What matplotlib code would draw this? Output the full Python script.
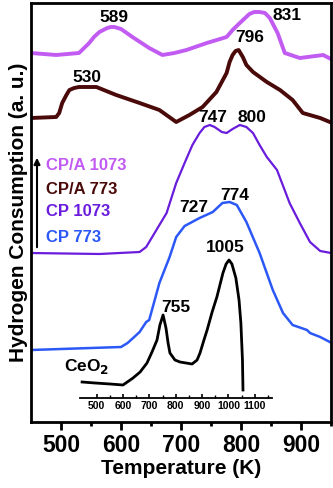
import matplotlib
matplotlib.use("Agg")
import matplotlib.pyplot as plt

plt.rcParams['font.family'] = ['Liberation Sans', 'DejaVu Sans']
plt.rcParams['font.weight'] = 'bold'

# ---- data (temperature in K, hydrogen consumption in a.u., offset stacked) ----
pink_T = [450, 492, 530, 547, 555, 564, 577, 583, 589, 600, 619, 647, 669, 689, 709, 743, 776, 786,
          798, 814, 822, 831, 840, 848, 861, 873, 898, 937, 950]
pink_v = [369, 367, 369, 379, 385, 390, 394, 395, 395, 393, 385, 374, 367, 369, 372, 379, 385, 392,
          399, 408, 410, 410, 409, 404, 389, 369, 364, 367, 363]

brown_T = [450, 492, 497, 502, 509, 514, 522, 530, 559, 592, 631, 664, 692, 714, 736, 759, 776,
           781, 786, 791, 796, 803, 809, 820, 843, 865, 886, 903, 932, 948]
brown_v = [304, 305, 309, 319, 327, 332, 334, 335, 335, 327, 319, 312, 300, 307, 315, 330, 349,
           360, 367, 371, 372, 365, 357, 350, 340, 332, 322, 309, 304, 300]

purple_T = [450, 564, 631, 642, 652, 664, 676, 692, 706, 719, 731, 739, 748, 756, 768, 776,
            786, 798, 809, 820, 831, 843, 860, 881, 898, 915, 932, 950]
purple_v = [169, 168, 170, 175, 185, 197, 209, 239, 259, 277, 289, 295, 297, 295, 290, 289,
            293, 297, 295, 289, 277, 265, 252, 219, 199, 180, 171, 169]

blue_T = [450, 500, 550, 600, 611, 622, 631, 642, 647, 664, 681, 692, 706, 731, 753, 769,
          781, 793, 809, 831, 853, 870, 886, 910, 915, 932, 948]
blue_v = [72, 73, 74, 75, 79, 85, 90, 100, 102, 139, 165, 185, 196, 204, 210, 219,
          220, 217, 200, 169, 132, 109, 97, 92, 89, 85, 80]

ceo2_T = [445, 494, 551, 600, 638, 665, 691, 710, 729, 740, 752, 763, 771, 778, 797, 816,
          839, 862, 881, 892, 907, 919, 938, 956, 979, 991, 1002, 1013, 1028, 1040, 1047,
          1053, 1055]
ceo2_v = [16, 15, 14, 13, 20, 26, 35, 46, 58, 73, 83, 70, 55, 45, 38, 36,
          35, 34, 38, 45, 58, 68, 86, 101, 125, 134, 138, 134, 120, 98, 75,
          38, 8]

main_ticks = [500, 600, 700, 800, 900]
inset_ticks = [500, 600, 700, 800, 900, 1000, 1100]

legend_labels = ["CP/A 1073", "CP/A 773", "CP 1073", "CP 773"]
c_pink, c_brown, c_purple, c_blue = "#C25BF2", "#4A0A0A", "#6A1CDC", "#2B58F6"
legend_colors = [c_pink, c_brown, c_purple, c_blue]

fig = plt.figure(figsize=(3.33, 4.88), dpi=100)
W, H = 333, 488
ax = fig.add_axes([31 / W, (H - 422) / H, 300 / W, 419 / H])

ax.plot(pink_T, pink_v, color=c_pink, lw=2.8, solid_joinstyle='round')
ax.plot(brown_T, brown_v, color=c_brown, lw=2.8, solid_joinstyle='round')
ax.plot(purple_T, purple_v, color=c_purple, lw=1.6, solid_joinstyle='round')
ax.plot(blue_T, blue_v, color=c_blue, lw=1.8, solid_joinstyle='round')

ax.set_xlim(450, 950)
ax.set_ylim(0, 419)
ax.set_yticks([])
ax.set_xticks(main_ticks)
ax.set_xticks([550, 650, 750, 850, 950], minor=True)
ax.tick_params(axis='x', which='major', direction='out', length=6, width=2,
               labelsize=16.5, pad=3)
ax.tick_params(axis='x', which='minor', direction='out', length=3, width=2)
for lab in ax.get_xticklabels():
    lab.set_fontweight('bold')
for s in ax.spines.values():
    s.set_linewidth(2)
ax.set_xlabel("Temperature (K)", fontsize=15, fontweight='bold', labelpad=1)
ax.set_ylabel("Hydrogen Consumption (a. u.)", fontsize=15, fontweight='bold', labelpad=2)

# peak annotations
ann = [("589", 589, 405), ("831", 877, 407), ("796", 814, 384), ("530", 544, 345),
       ("747", 753, 305), ("800", 818, 305), ("727", 722, 214), ("774", 789, 227),
       ("1005", 774, 174), ("755", 692, 114)]
for t, x, y in ann:
    ax.text(x, y, t, ha='center', va='center', fontsize=12.5, fontweight='bold', color='black')
ax.text(542, 55, "CeO$_\\mathbf{2}$", ha='center', va='center', fontsize=12.5,
        fontweight='bold', color='black')

# legend with arrow
ax.annotate("", xy=(460, 267), xytext=(460, 172),
            arrowprops=dict(arrowstyle='-|>', color='black', lw=1.5, mutation_scale=9))
for lab, col, y in zip(legend_labels, legend_colors, [257, 232, 210, 185]):
    ax.text(475, y, lab, ha='left', va='center', fontsize=12, fontweight='bold', color=col)

# inset (CeO2)
axi = fig.add_axes([80 / W, (H - 398) / H, 192 / W, 148 / H])
axi.patch.set_alpha(0)
axi.plot(ceo2_T, ceo2_v, color='black', lw=2.0, solid_joinstyle='round')
axi.set_xlim(437, 1165)
axi.set_ylim(0, 148)
axi.set_yticks([])
for k in ['top', 'right', 'left']:
    axi.spines[k].set_visible(False)
axi.spines['bottom'].set_linewidth(1.3)
axi.set_xticks(inset_ticks)
axi.set_xticks([550, 650, 750, 850, 950, 1050, 1150], minor=True)
axi.tick_params(axis='x', which='major', direction='in', length=3, width=1.2,
                labelsize=7.5, pad=2)
axi.tick_params(axis='x', which='minor', direction='in', length=2, width=1)
for lab in axi.get_xticklabels():
    lab.set_fontweight('bold')

fig.savefig("out.png", dpi=100)
